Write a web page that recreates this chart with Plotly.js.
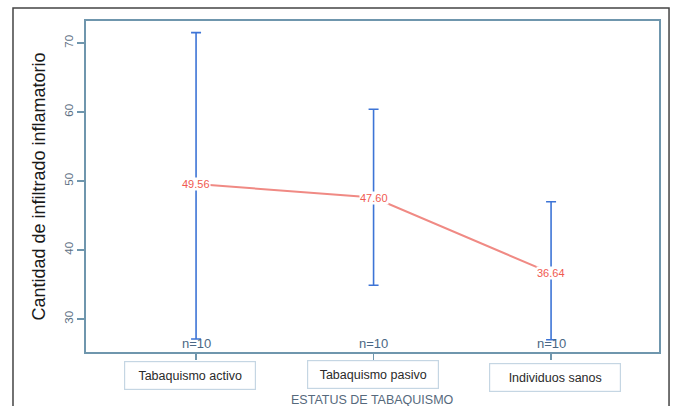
<!DOCTYPE html>
<html>
<head>
<meta charset="utf-8">
<script src="https://cdn.plot.ly/plotly-3.0.1.min.js"></script>
<style>html,body{margin:0;padding:0;background:#fff;}#chart{width:675px;height:406px;}</style>
</head>
<body>
<div id="chart"></div>
<script>
const categories = ["Tabaquismo activo", "Tabaquismo pasivo", "Individuos sanos"];
const means = [49.56, 47.60, 36.64];
const meanLabels = ["49.56", "47.60", "36.64"];
const upper = [71.5, 60.4, 47.0];
const lower = [27.1, 34.9, 27.0];
const nLabels = ["n=10", "n=10", "n=10"];
const yTicks = [30, 40, 50, 60, 70];
const xTitle = "ESTATUS DE TABAQUISMO";
const yTitle = "Cantidad de infiltrado inflamatorio";

const xs = categories.map((c, i) => i);
const errPlus = upper.map((u, i) => u - means[i]);
const errMinus = lower.map((l, i) => means[i] - l);
const boxShift = [-6, -1, 4];
const boxYShift = [-9, -8, -11];

const traces = [
  {
    x: xs, y: means, type: "scatter", mode: "markers",
    marker: {size: 1, opacity: 0},
    error_y: {type: "data", symmetric: false, array: errPlus, arrayminus: errMinus,
              color: "#3d74d6", thickness: 1.6, width: 5},
    hoverinfo: "skip", showlegend: false
  },
  {
    x: xs, y: means, type: "scatter", mode: "lines",
    line: {color: "#f08a84", width: 2},
    showlegend: false
  }
];

const annotations = [];
xs.forEach((x, i) => {
  annotations.push({x: x, y: means[i], xref: "x", yref: "y", text: meanLabels[i],
    showarrow: false, bgcolor: "#ffffff", borderpad: 0,
    font: {family: "Liberation Sans, Arial, sans-serif", size: 11, color: "#f05a50"}});
  annotations.push({x: x, y: 0, xref: "x", yref: "paper", yanchor: "bottom", yshift: -1,
    text: nLabels[i], showarrow: false,
    font: {family: "Liberation Sans, Arial, sans-serif", size: 13, color: "#4a6784"}});
  annotations.push({x: x, y: 0, xref: "x", yref: "paper", yanchor: "top", yshift: boxYShift[i], xshift: boxShift[i],
    text: categories[i], showarrow: false, width: 126, height: 23,
    bordercolor: "#c5d6e3", borderwidth: 1.2, borderpad: 2, bgcolor: "#ffffff",
    font: {family: "Liberation Sans, Arial, sans-serif", size: 12.5, color: "#2a2a2a"}});
});
annotations.push({x: 0.5, y: 0, xref: "paper", yref: "paper", yanchor: "middle", yshift: -48,
  text: xTitle, showarrow: false,
  font: {family: "Liberation Sans, Arial, sans-serif", size: 12.5, color: "#56697c"}});

const layout = {
  width: 675, height: 406,
  margin: {l: 86, r: 16, t: 21, b: 54},
  paper_bgcolor: "#ffffff", plot_bgcolor: "#ffffff",
  showlegend: false,
  xaxis: {
    range: [-0.62, 2.608], tickvals: xs, ticktext: ["", "", ""],
    showgrid: false, zeroline: false, showline: true, mirror: true,
    linecolor: "#6f96ad", linewidth: 1.6,
    ticks: "outside", ticklen: 6, tickcolor: "#6f96ad", tickwidth: 1.2
  },
  yaxis: {
    range: [25.22, 73.19], tickvals: yTicks,
    showgrid: false, zeroline: false, showline: true, mirror: true,
    linecolor: "#6f96ad", linewidth: 1.6,
    ticks: "outside", ticklen: 7, tickcolor: "#6f96ad", tickwidth: 1.2,
    tickangle: -90,
    tickfont: {family: "Liberation Sans, Arial, sans-serif", size: 11.5, color: "#5d7083"},
    title: {text: yTitle, standoff: 12,
      font: {family: "Liberation Sans, Arial, sans-serif", size: 18, color: "#1a1a1a"}}
  },
  annotations: annotations,
  shapes: [{
    type: "rect", xref: "paper", yref: "paper",
    x0: -0.1274, x1: 1.0175, y0: -0.2, y1: 1.0393,
    line: {color: "#444444", width: 1.5}, fillcolor: "rgba(0,0,0,0)", layer: "below"
  }]
};

Plotly.newPlot("chart", traces, layout, {staticPlot: true, displayModeBar: false});
</script>
</body>
</html>
